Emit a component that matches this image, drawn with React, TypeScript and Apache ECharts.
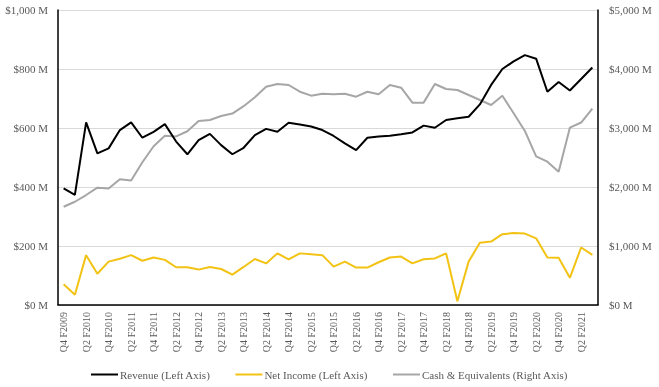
import React, { useEffect, useRef } from "react";
import * as echarts from "echarts";

const quarters: string[] = (() => {
  const q: string[] = ["Q4 F2009"];
  for (let y = 2010; y <= 2021; y++) {
    for (let k = 1; k <= 4; k++) {
      if (y === 2021 && k > 3) break;
      q.push(`Q${k} F${y}`);
    }
  }
  return q;
})();

const revenue = [
  395, 373, 619, 514, 531, 593, 619, 567, 587, 613, 554, 511, 559, 580, 542, 511,
  533, 576, 597, 587, 618, 612, 605, 593, 573, 548, 525, 567, 571, 574, 579, 585,
  608, 601, 627, 633, 638, 680, 746, 800, 826, 847, 835, 723, 756, 727, 766, 805,
];

const netIncome = [
  70, 35, 169, 106, 147, 157, 169, 150, 161, 153, 128, 128, 120, 129, 122, 103,
  129, 156, 141, 175, 155, 175, 172, 169, 130, 147, 127, 127, 145, 161, 164, 141,
  155, 158, 175, 13, 147, 211, 215, 240, 244, 242, 226, 161, 160, 92, 195, 170,
];

const cash = [
  1665, 1750, 1864, 1988, 1975, 2130, 2110, 2420, 2690, 2868, 2858, 2945, 3119, 3136, 3203, 3245,
  3370, 3520, 3700, 3746, 3729, 3615, 3548, 3580, 3571, 3582, 3531, 3615, 3571, 3729, 3683, 3430,
  3430, 3746, 3661, 3644, 3559, 3475, 3390, 3548, 3249, 2950, 2520, 2429, 2260, 3006, 3093, 3328,
];

const FONT = "'Liberation Serif', 'Times New Roman', serif";
const TXT = "#595959";

export default function App() {
  const ref = useRef<HTMLDivElement>(null);
  useEffect(() => {
    if (!ref.current) return;
    const chart = echarts.init(ref.current, undefined, { renderer: "svg" });
    chart.setOption({
      animation: false,
      textStyle: { fontFamily: FONT },
      grid: { left: 58, right: 61, top: 10, bottom: 82, containLabel: false },
      legend: {
        left: "center",
        top: 364,
        icon: "rect",
        itemWidth: 27,
        itemHeight: 2,
        itemGap: 25,
        textStyle: { fontFamily: FONT, fontSize: 11, color: TXT, padding: [0, 0, 0, -3] },
        data: ["Revenue (Left Axis)", "Net Income (Left Axis)", "Cash & Equivalents (Right Axis)"],
      },
      xAxis: [
        {
          type: "category",
          data: quarters,
          boundaryGap: true,
          axisLine: { show: true, lineStyle: { color: "#d9d9d9", width: 1 } },
          axisTick: { show: false },
          axisLabel: {
            interval: 1,
            rotate: 90,
            margin: 7,
            fontSize: 10,
            color: TXT,
            fontFamily: FONT,
          },
        },
        {
          type: "category",
          data: quarters,
          position: "top",
          axisLine: { show: true, lineStyle: { color: "#000", width: 1.5 } },
          axisTick: { show: false },
          axisLabel: { show: false },
        },
      ],
      yAxis: [
        {
          type: "value",
          min: 0,
          max: 1000,
          interval: 200,
          position: "left",
          axisLine: { show: true, lineStyle: { color: "#000", width: 1.5 } },
          axisTick: { show: false },
          axisLabel: {
            margin: 10,
            fontSize: 11,
            color: TXT,
            fontFamily: FONT,
            formatter: (v: number) => `$${v.toLocaleString("en-US")} M`,
          },
          splitLine: { show: true, lineStyle: { color: "#d9d9d9", width: 1 } },
        },
        {
          type: "value",
          min: 0,
          max: 5000,
          interval: 1000,
          position: "right",
          axisLine: { show: true, lineStyle: { color: "#000", width: 1.5 } },
          axisTick: { show: false },
          axisLabel: {
            margin: 11,
            fontSize: 11,
            color: TXT,
            fontFamily: FONT,
            formatter: (v: number) => `$${v.toLocaleString("en-US")} M`,
          },
          splitLine: { show: false },
        },
      ],
      series: [
        {
          name: "Revenue (Left Axis)",
          type: "line",
          data: revenue,
          yAxisIndex: 0,
          symbol: "none",
          lineStyle: { color: "#000000", width: 2 },
          itemStyle: { color: "#000000" },
          z: 4,
        },
        {
          name: "Net Income (Left Axis)",
          type: "line",
          data: netIncome,
          yAxisIndex: 0,
          symbol: "none",
          lineStyle: { color: "#F2C314", width: 2 },
          itemStyle: { color: "#F2C314" },
          z: 3,
        },
        {
          name: "Cash & Equivalents (Right Axis)",
          type: "line",
          data: cash,
          yAxisIndex: 1,
          symbol: "none",
          lineStyle: { color: "#A6A6A6", width: 2 },
          itemStyle: { color: "#A6A6A6" },
          z: 2,
        },
      ],
    });
    return () => chart.dispose();
  }, []);
  return (
    <div
      ref={ref}
      style={{ position: "fixed", left: 0, top: 0, width: 659, height: 387 }}
    />
  );
}
